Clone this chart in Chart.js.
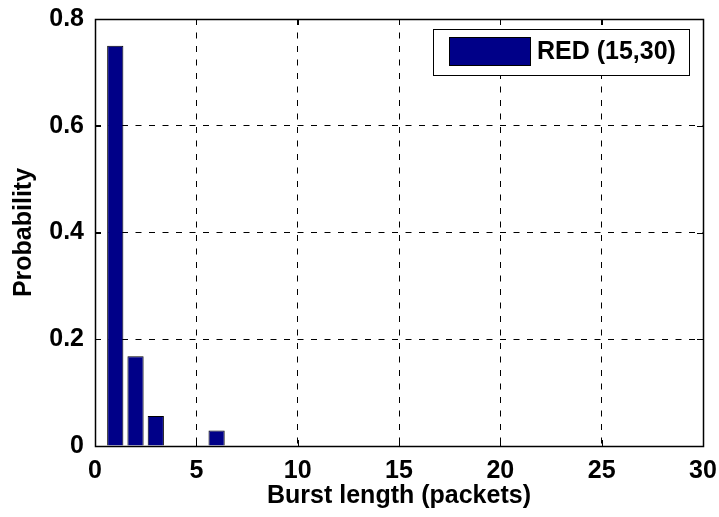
<!DOCTYPE html>
<html>
<head>
<meta charset="utf-8">
<script src="https://cdn.jsdelivr.net/npm/chart.js@4"></script>
<style>
  html, body { margin: 0; padding: 0; background: #fff; }
  #wrap { width: 719px; height: 517px; }
</style>
</head>
<body>
<div id="wrap"><canvas id="c" width="719" height="517"></canvas></div>
<script>
// Burst length distribution
const burstLengths = [1, 2, 3, 6];
const probabilities = [0.75, 0.168, 0.056, 0.029];
const seriesName = 'RED (15,30)';
const xTicks = [0, 5, 10, 15, 20, 25, 30];
const yTicks = [0, 0.2, 0.4, 0.6, 0.8];

const FONT = 'Liberation Sans, Arial, Helvetica, sans-serif';
const BAR_FILL = '#000088';

// Frame box, inward tick marks on all four sides, and a boxed legend
const framePlugin = {
  id: 'frame',
  afterDatasetsDraw(chart) {
    const { ctx, chartArea: a, scales } = chart;
    const xs = scales.x, ys = scales.y;
    const tl = 6;
    ctx.save();
    ctx.strokeStyle = '#000';
    ctx.lineWidth = 1;
    ctx.setLineDash([]);
    ctx.beginPath();
    xTicks.forEach(v => {
      const px = Math.round(xs.getPixelForValue(v)) + 0.5;
      ctx.moveTo(px, a.bottom); ctx.lineTo(px, a.bottom - tl);
      ctx.moveTo(px, a.top); ctx.lineTo(px, a.top + tl);
    });
    yTicks.forEach(v => {
      const py = Math.round(ys.getPixelForValue(v)) + 0.5;
      ctx.moveTo(a.left, py); ctx.lineTo(a.left + tl, py);
      ctx.moveTo(a.right, py); ctx.lineTo(a.right - tl, py);
    });
    ctx.stroke();
    ctx.lineWidth = 1.5;
    ctx.strokeRect(Math.round(a.left) + 0.5, Math.round(a.top) + 0.5,
                   Math.round(a.right - a.left), Math.round(a.bottom - a.top));

    // legend
    const bx = 433.5, by = 29.5, bw = 256, bh = 46;
    ctx.fillStyle = '#fff';
    ctx.fillRect(bx, by, bw, bh);
    ctx.lineWidth = 1;
    ctx.strokeStyle = '#000';
    ctx.strokeRect(bx, by, bw, bh);
    ctx.fillStyle = BAR_FILL;
    ctx.fillRect(449.5, 37.5, 81, 28);
    ctx.strokeRect(449.5, 37.5, 81, 28);
    ctx.fillStyle = '#000';
    ctx.font = 'bold 25px ' + FONT;
    ctx.textBaseline = 'middle';
    ctx.textAlign = 'left';
    ctx.fillText(chart.data.datasets[0].label, 537, 52.5);
    ctx.restore();
  }
};

const gridStyle = {
  color: '#000',
  lineWidth: 1,
  drawTicks: false,
  offset: false
};

new Chart(document.getElementById('c'), {
  type: 'bar',
  data: {
    datasets: [{
      label: seriesName,
      data: burstLengths.map((x, i) => ({ x: x, y: probabilities[i] })),
      backgroundColor: BAR_FILL,
      borderColor: '#000',
      borderWidth: 1,
      borderSkipped: 'bottom',
      categoryPercentage: 0.8,
      barPercentage: 1.0
    }]
  },
  options: {
    responsive: false,
    animation: false,
    devicePixelRatio: 1,
    layout: { padding: { top: 19, right: 16, left: 0, bottom: 0 } },
    plugins: {
      legend: { display: false },
      tooltip: { enabled: false }
    },
    scales: {
      x: {
        type: 'linear',
        min: 0,
        max: 30,
        offset: false,
        afterBuildTicks(scale) { scale.ticks = xTicks.map(v => ({ value: v })); },
        afterFit(scale) {
          scale.height = 71;
          scale.paddingLeft = 0; scale.paddingRight = 0;
        },
        grid: Object.assign({}, gridStyle),
        border: { display: false, dash: [6, 7.5] },
        ticks: {
          color: '#000',
          padding: 10,
          maxRotation: 0,
          font: { family: FONT, size: 25, weight: 'bold' }
        },
        title: {
          display: true,
          text: 'Burst length (packets)',
          color: '#000',
          padding: { top: 0, bottom: 6 },
          font: { family: FONT, size: 25, weight: 'bold' }
        }
      },
      y: {
        min: 0,
        max: 0.8,
        afterBuildTicks(scale) { scale.ticks = yTicks.map(v => ({ value: v })); },
        afterFit(scale) {
          scale.width = 95;
          scale.paddingTop = 0; scale.paddingBottom = 0;
        },
        grid: Object.assign({}, gridStyle),
        border: { display: false, dash: [6, 7.5] },
        ticks: {
          color: '#000',
          padding: 11,
          font: { family: FONT, size: 25, weight: 'bold' }
        },
        title: {
          display: true,
          text: 'Probability',
          color: '#000',
          padding: { top: 9, bottom: 0 },
          font: { family: FONT, size: 25, weight: 'bold' }
        }
      }
    }
  },
  plugins: [framePlugin]
});
</script>
</body>
</html>
